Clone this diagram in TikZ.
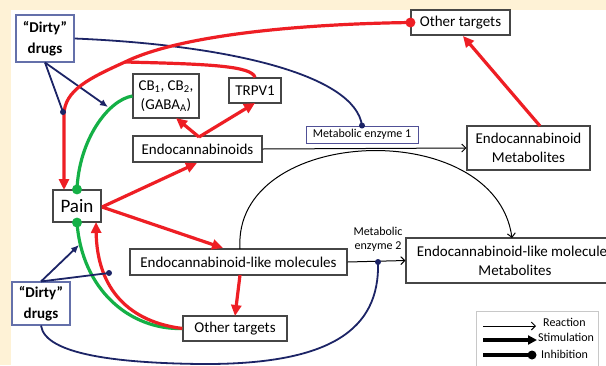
\documentclass[tikz,border=0pt]{standalone}
\usepackage{fontspec}
\setmainfont{Carlito}
\usetikzlibrary{arrows.meta}
\definecolor{cream}{RGB}{254,242,214}
\definecolor{redc}{RGB}{238,30,36}
\definecolor{greenc}{RGB}{20,176,70}
\definecolor{navyc}{RGB}{28,36,102}
\definecolor{boxgray}{RGB}{70,70,70}
\definecolor{dirtyblue}{RGB}{100,112,170}
\definecolor{mebord}{RGB}{80,80,150}
\definecolor{leggray}{RGB}{200,200,200}
\begin{document}
\begin{tikzpicture}[x=1pt,y=-1pt,
  box/.style={draw=boxgray,line width=1.1pt,fill=white,inner sep=0pt,align=center,font=\fontsize{15}{19}\selectfont},
  dirtybox/.style={box,draw=dirtyblue,font=\fontsize{15}{21}\selectfont\bfseries},
  smalltext/.style={inner sep=0pt,align=center,font=\fontsize{12}{14}\selectfont},
  redl/.style={draw=redc,line width=3.2pt},
  redarr/.style={redl,-{Triangle[length=11pt,width=10pt]}},
  greenl/.style={draw=greenc,line width=3.2pt},
  navyl/.style={draw=navyc,line width=1.8pt},
  navyarr/.style={navyl,-{Latex[length=8pt,width=7pt]}},
  react/.style={draw=black,line width=1pt,-{Straight Barb[length=4pt,width=8pt]}},
  legtext/.style={inner sep=0pt,anchor=west,font=\fontsize{12}{14}\selectfont}]
\clip (0,0) rectangle (606,365);
\fill[cream] (0,0) rectangle (606,365);
\fill[white] (11,10) rectangle (606,365);

% nodes
\node[dirtybox,minimum width=58pt,minimum height=47pt] (d1) at (45,38.5) {“Dirty”\\drugs};
\node[box,minimum width=66pt,minimum height=44pt] (cb) at (166,96) {CB\textsubscript{1}, CB\textsubscript{2},\\(GABA\textsubscript{A})};
\node[box,minimum width=52pt,minimum height=25pt] (trpv) at (255,90.5) {TRPV1};
\node[box,minimum width=129pt,minimum height=26pt] (endo) at (197.5,149) {Endocannabinoids};
\node[box,draw=mebord,line width=0.9pt,minimum width=112pt,minimum height=17pt,font=\fontsize{12}{14}\selectfont] (me1) at (362,134.5) {Metabolic enzyme 1};
\node[box,minimum width=123pt,minimum height=44pt] (emet) at (528.5,148) {Endocannabinoid\\Metabolites};
\node[box,minimum width=99pt,minimum height=25pt] (ot1) at (460.5,22.5) {Other targets};
\node[box,minimum width=48pt,minimum height=32pt,font=\fontsize{19}{22}\selectfont] (pain) at (77,206) {Pain};
\node[box,minimum width=217pt,minimum height=26pt] (elike) at (238.5,262) {Endocannabinoid-like molecules};
\node[smalltext] (me2) at (378,239) {Metabolic\\enzyme 2};
\node[box,minimum width=218pt,minimum height=45pt] (elmet) at (515,260.5) {Endocannabinoid-like molecules\\Metabolites};
\node[box,minimum width=104pt,minimum height=25pt] (ot2) at (235,328.5) {Other targets};
\node[dirtybox,minimum width=58pt,minimum height=43pt] (d2) at (41,303.5) {“Dirty”\\drugs};

% coordinates
\coordinate (merge) at (125,62);
\coordinate (painTL) at (64,190);
\coordinate (painBR) at (96,222);
\coordinate (dot1) at (63,112);
\coordinate (n1tip) at (108,107);
\coordinate (n2tip) at (79,245);
\coordinate (dot2) at (109,273);
\coordinate (me2dot) at (378,262);
\coordinate (painE) at (102,207);
\coordinate (endoTip) at (197,163);
\coordinate (elikeTip) at (223,248);
\coordinate (endoTop) at (199,137);
\coordinate (cbTip) at (176,118);
\coordinate (trpvTip) at (255,103);
\coordinate (elikeBot) at (240,275);
\coordinate (ot2Tip) at (235,316);
\coordinate (emetTop) at (540,126);
\coordinate (ot1Tip) at (463,36);
\coordinate (elikeArc) at (240,249);
\coordinate (elmetTip) at (512,238);

% black reactions
\draw[react] (endo.east) -- (emet.west);
\draw[react] (elike.east) -- (elmet.west);
\draw[react] (elikeArc) .. controls (232,125) and (495,115) .. (elmetTip);

% navy
\draw[navyl] (d1.east) .. controls (230,45) and (355,75) .. (me1.north);
\fill[navyc] (me1.north) circle (3pt);
\draw[navyarr] (d1.south) -- (n1tip);
\draw[navyl] (d2.south) .. controls (45,355) and (120,363) .. (200,364) .. controls (330,365) and (380,330) .. (me2dot);
\fill[navyc] (me2dot) circle (3pt);

% green
\draw[greenl] (cb.west) .. controls (108,100) and (79,140) .. (pain.north);
\draw[greenl] (pain.south) .. controls (82,290) and (130,330) .. (ot2.west);
\fill[greenc] (pain.north) circle (5pt);
\fill[greenc] (pain.south) circle (5pt);

% red
\draw[redarr] (ot1.west) .. controls (300,24) and (180,35) .. (merge) .. controls (90,78) and (64,90) .. (64,115) -- (painTL);
\draw[redl] (trpv.north) .. controls (252,66) and (210,64) .. (merge);
\fill[redc] (ot1.west) circle (5pt);
\draw[redarr] (ot2.west) .. controls (130,322) and (97,290) .. (painBR);
\draw[redarr] (painE) -- (endoTip);
\draw[redarr] (painE) -- (elikeTip);
\draw[redarr] (endoTop) -- (cbTip);
\draw[redarr] (endoTop) -- (trpvTip);
\draw[redarr] (elikeBot) -- (ot2Tip);
\draw[redarr] (emetTop) -- (ot1Tip);

% navy over red
\draw[navyl] (d1.south) -- (dot1);
\fill[navyc] (dot1) circle (3pt);
\draw[navyarr] (d2.north) -- (n2tip);
\draw[navyl] (d2.north) -- (dot2);
\fill[navyc] (dot2) circle (3pt);

% legend
\node[draw=leggray,line width=0.8pt,fill=white,minimum width=122pt,minimum height=60pt,inner sep=0pt] (legend) at (537,341) {};
\coordinate (la1) at (483,326); \coordinate (la2) at (536,326);
\coordinate (lb1) at (483,340); \coordinate (lb2) at (537,340);
\coordinate (lc1) at (483,355); \coordinate (lc2) at (532,355);
\draw[react] (la1) -- (la2);
\draw[line width=3.5pt,-{Triangle[length=9pt,width=9pt]}] (lb1) -- (lb2);
\draw[line width=3.5pt] (lc1) -- (lc2);
\fill (lc2) circle (4.5pt);
\node[legtext] (lt1) at (543,322) {Reaction};
\node[legtext] (lt2) at (538,337) {Stimulation};
\node[legtext] (lt3) at (541,354) {Inhibition};
\end{tikzpicture}
\end{document}
